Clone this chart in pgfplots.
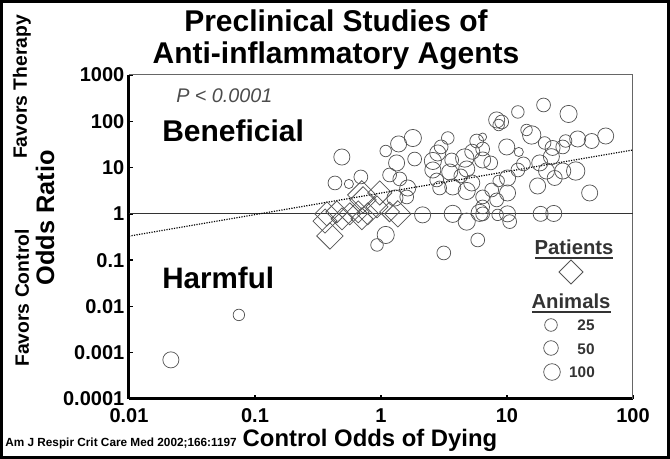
\documentclass[border=0pt]{standalone}
\usepackage{pgfplots}
\pgfplotsset{compat=1.18}
\usepackage{pgfplotstable}
\usepackage{fontspec}
\setmainfont{Liberation Sans}
\definecolor{txtgray}{HTML}{333333}
\definecolor{mkgray}{HTML}{555555}

\pgfplotstableread{
x y r
19.5 225 4.5
12.2 159 4.1
30.8 144 5.6
8.28 107 5.25
9.08 96.6 4.5
8.59 83 3.75
14.3 64.9 3.75
15.7 50.6 6
19.9 34.0 4.1
23.0 26.5 4.9
27.7 27.9 4.5
29.2 37.5 4.1
36.4 41.5 5.25
47.0 37.5 4.9
60.7 48.1 5.25
9.95 27.9 5.25
12.4 21.7 3
5.75 37.5 4.5
6.41 45.8 2.6
6.41 25.2 4.5
6.41 14.6 5.25
7.43 12.6 4.5
18.2 12.6 5.25
22.5 17.2 5.25
20.6 8.43 5.25
27.7 8.43 5.25
35.1 8.43 6
23.9 5.96 4.9
12.2 8.87 4.5
10.1 5.96 5.25
8.59 5.13 3.75
7.56 3.28 4.5
10.1 2.83 5.25
8.28 2.0 4.5
6.41 2.32 4.5
6.41 1.41 4.5
17.5 4.0 5.25
45.3 2.83 5.25
0.489 16.9 5.25
1.09 22.8 3.75
1.38 32.4 5.25
1.79 43.5 5.6
3.39 43.5 4.1
1.33 12.6 5.25
1.85 15.3 4.5
2.58 13.9 5.6
2.82 20.7 5.25
3.64 14.6 4.5
4.62 16.1 6
3.51 8.03 5.25
2.58 8.87 5.25
4.79 9.33 5.25
1.17 6.92 4.5
1.41 5.68 4.5
1.63 3.62 5.25
1.60 2.32 4.5
1.29 2.20 5.25
2.77 5.40 4.5
3.71 3.81 5.25
4.79 3.12 5.6
2.92 3.62 4.5
5.25 4.65 5.25
0.431 4.65 4.5
0.556 4.42 3
0.692 6.27 4.5
2.14 0.95 5.25
3.71 1.0 5.6
4.79 0.68 5.6
6.07 1.05 5.6
6.41 1.0 4.5
8.43 0.95 3.75
10.1 1.0 5.25
10.5 0.68 4.5
18.5 1.0 4.9
23.5 1.02 5.25
1.09 0.35 5.6
0.93 0.213 4.1
5.86 0.273 4.5
3.15 0.143 4.5
0.0745 0.00655 3.75
0.0215 0.0007 5.25
3.0 28.0 4.5
5.3 22.0 4.9
13.5 12.0 4.5
4.3 6.6 4.5
}\animals

\pgfplotstableread{
x y r
0.372 1.0 5.83
0.36 0.7 5.83
0.393 0.333 6.36
0.446 1.1 5.3
0.49 0.78 5.3
0.566 1.0 5.3
0.705 2.56 6.9
0.72 2.0 6.36
0.977 2.83 5.83
0.66 1.1 5.3
0.785 1.0 5.3
0.705 0.78 5.3
1.17 1.1 4.77
1.36 1.0 6.36
0.93 1.41 5.3
}\patients

\begin{document}
\begin{tikzpicture}[x=0.75pt,y=0.75pt]
\useasboundingbox (0,0) rectangle (670,459);
\begin{axis}[
  at={(96.75pt,45pt)}, anchor=south west,
  scale only axis, width=378pt, height=243pt,
  xmode=log, ymode=log,
  xmin=0.01, xmax=100, ymin=0.0001, ymax=1000,
  axis x line*=bottom, axis y line*=left,
  axis line style={line width=2.25pt, -},
  xtick={0.01,0.1,1,10,100},
  xticklabels={\textbf{0.01},\textbf{0.1},\textbf{1},\textbf{10},\textbf{100}},
  ytick={0.0001,0.001,0.01,0.1,1,10,100,1000},
  yticklabels={\textbf{0.0001},\textbf{0.001},\textbf{0.01},\textbf{0.1},\textbf{1},\textbf{10},\textbf{100},\textbf{1000}},
  xminorticks=false, yminorticks=false,
  tick style={black, line width=1pt},
  major tick length=3pt, tick align=inside,
  tick label style={font=\fontsize{15}{17}\selectfont\bfseries},
  xticklabel style={yshift=-3.5pt},
  yticklabel style={xshift=0pt},
  clip=false,
]
\draw[black!60, line width=0.75pt] (rel axis cs:0,1) -- (rel axis cs:1,1) -- (rel axis cs:1,0);
\addplot[black!80, line width=0.8pt] coordinates {(0.01,1) (100,1)};
\addplot[black, densely dotted, line width=0.9pt] coordinates {(0.01,0.33) (100,24)};
\addplot[scatter, only marks, mark=o,
  scatter/use mapped color={draw=mkgray},
  visualization depends on={\thisrow{r}\as\rr},
  scatter/@pre marker code/.append style={/tikz/mark size={1.15*\rr pt}},
  mark options={line width=0.55pt}] table[x=x,y=y,meta=r]{\animals};
\addplot[scatter, only marks, mark=square,
  scatter/use mapped color={draw=mkgray},
  visualization depends on={\thisrow{r}\as\rq},
  scatter/@pre marker code/.append style={/tikz/mark size={1.1*\rq pt}},
  mark options={line width=0.55pt, rotate=45}] table[x=x,y=y,meta=r]{\patients};
\end{axis}
% outer frame
\draw[black, line width=2.25pt] (1.5,1.5) rectangle (668.5,457.5);
% title
\node[anchor=base, font=\fontsize{22.5}{27}\selectfont\bfseries, inner sep=0pt] at (336,427) {Preclinical Studies of};
\node[anchor=base, font=\fontsize{22.5}{27}\selectfont\bfseries, inner sep=0pt] at (336,395) {Anti-inflammatory Agents};
% in-plot texts
\node[anchor=base west, font=\fontsize{14.8}{17}\selectfont\itshape, text=black!70, inner sep=0pt] at (176,356) {P < 0.0001};
\node[anchor=base west, font=\fontsize{22.5}{27}\selectfont\bfseries, inner sep=0pt] at (162,317) {Beneficial};
\node[anchor=base west, font=\fontsize{22.2}{27}\selectfont\bfseries, inner sep=0pt] at (162,170) {Harmful};
% axis labels
\node[rotate=90, font=\fontsize{19}{22}\selectfont\bfseries] at (45,241) {Odds Ratio};
\node[rotate=90, font=\fontsize{14.5}{17}\selectfont\bfseries] at (22,372) {Favors Therapy};
\node[rotate=90, font=\fontsize{14.5}{17}\selectfont\bfseries] at (22,161) {Favors Control};
\node[anchor=base, font=\fontsize{17.9}{21}\selectfont\bfseries, inner sep=0pt] at (370,12) {Control Odds of Dying};
\node[anchor=base west, font=\fontsize{8.85}{10}\selectfont\bfseries, inner sep=0pt] at (5,12) {Am J Respir Crit Care Med 2002;166:1197};
% legend
\node[anchor=base, font=\fontsize{15.2}{18}\selectfont\bfseries, text=txtgray, inner sep=0pt] at (574,204) {Patients};
\draw[txtgray, line width=0.9pt] (535,201) -- (613,201);
\draw[mkgray, line width=0.55pt] (559,187) -- (571,199) -- (583,187) -- (571,175) -- cycle;
\node[anchor=base, font=\fontsize{15.2}{18}\selectfont\bfseries, text=txtgray, inner sep=0pt] at (571,150) {Animals};
\draw[txtgray, line width=0.9pt] (532,147) -- (611,147);
\draw[mkgray, line width=0.55pt] (551,134) circle[radius=6.3];
\draw[mkgray, line width=0.55pt] (551,111) circle[radius=7.3];
\draw[mkgray, line width=0.55pt] (552,87) circle[radius=8.3];
\node[font=\fontsize{11.5}{14}\selectfont\bfseries, text=txtgray] at (586,134) {25};
\node[font=\fontsize{11.5}{14}\selectfont\bfseries, text=txtgray] at (586,110) {50};
\node[font=\fontsize{11.5}{14}\selectfont\bfseries, text=txtgray] at (582,87) {100};
\end{tikzpicture}
\end{document}
